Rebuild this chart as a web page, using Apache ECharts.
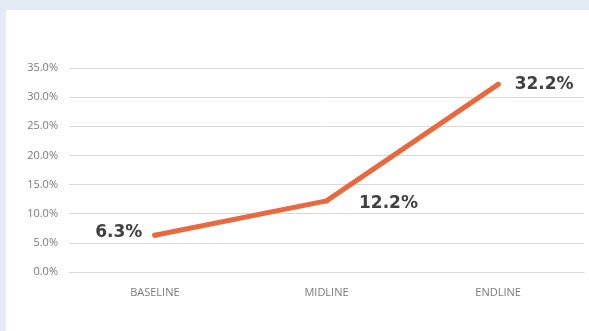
<!DOCTYPE html>
<html>
<head>
<meta charset="utf-8">
<script src="https://cdn.jsdelivr.net/npm/echarts@6/dist/echarts.min.js"></script>
<style>
html,body{margin:0;padding:0;width:589px;height:331px;background:#e4ebf5;overflow:hidden;}
#chart{position:absolute;left:6px;top:10px;width:583px;height:321px;background:#ffffff;}
</style>
</head>
<body>
<div id="chart"></div>
<script>
const categories = ['BASELINE', 'MIDLINE', 'ENDLINE'];
const values = [6.3, 12.2, 32.2];
const valueLabels = ['6.3%', '12.2%', '32.2%'];
const labelPositions = ['left', 'right', 'right'];
const labelDistances = [10, 30, 14];
const labelOffsets = [[0, -3], [0, 3], [0, 0]];

const chart = echarts.init(document.getElementById('chart'), null, {renderer: 'canvas'});
const seriesData = values.map((v, i) => ({
  value: v,
  label: {
    show: true,
    position: labelPositions[i],
    distance: labelDistances[i],
    offset: labelOffsets[i],
    formatter: valueLabels[i]
  }
}));
chart.setOption({
  animation: false,
  backgroundColor: '#ffffff',
  grid: {left: 63, right: 5, top: 58, bottom: 59, containLabel: false},
  xAxis: {
    type: 'category',
    data: categories,
    boundaryGap: true,
    axisLine: {show: true, lineStyle: {color: '#d9d9d9', width: 1}},
    axisTick: {show: false},
    axisLabel: {color: '#7a7a7a', fontFamily: 'Open Sans', fontSize: 11, margin: 15}
  },
  yAxis: {
    type: 'value',
    min: 0, max: 35, interval: 5,
    axisLine: {show: false},
    axisTick: {show: false},
    splitLine: {lineStyle: {color: '#d9d9d9', width: 1}},
    axisLabel: {
      color: '#7a7a7a', fontFamily: 'Open Sans', fontSize: 11, margin: 11,
      formatter: v => v.toFixed(1) + '%'
    }
  },
  series: [{
    type: 'line',
    data: seriesData,
    symbol: 'circle',
    symbolSize: 5,
    showSymbol: true,
    itemStyle: {color: '#e9693f', borderWidth: 0},
    lineStyle: {color: '#e9693f', width: 5, cap: 'round', join: 'round'},
    label: {
      color: '#404040', fontFamily: 'DejaVu Sans', fontWeight: 'bold', fontSize: 17
    }
  }]
});
</script>
</body>
</html>
